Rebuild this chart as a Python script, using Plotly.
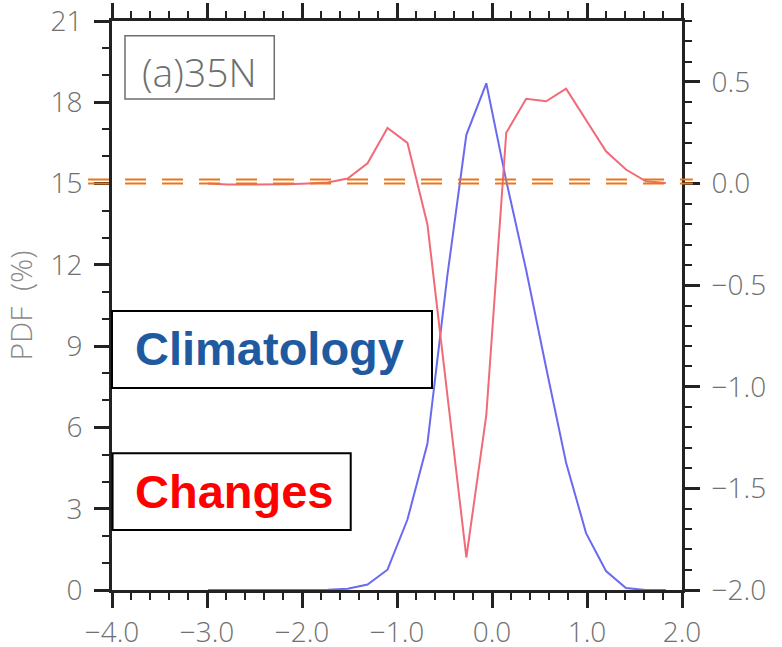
import plotly.graph_objects as go

# Bin centres (normalised anomaly) shared by both curves
bins = [-2.99, -2.78, -2.57, -2.36, -2.15, -1.94, -1.73, -1.52, -1.31, -1.10,
        -0.89, -0.68, -0.47, -0.27, -0.06, 0.15, 0.36, 0.57, 0.78, 0.99,
        1.20, 1.41, 1.62, 1.83]

# Climatological PDF (%) - left axis
climatology = [0, 0, 0, 0, 0, 0, 0.01, 0.05, 0.2, 0.75,
               2.6, 5.4, 11.6, 16.8, 18.7, 15.1, 11.8, 8.2, 4.7, 2.1,
               0.7, 0.07, 0, 0]

# Change in PDF (%) - right axis
changes = [0.0, -0.005, -0.005, -0.005, -0.003, 0.0, 0.005, 0.025, 0.10, 0.274,
           0.20, -0.20, -1.04, -1.84, -1.14, 0.25, 0.417, 0.405, 0.467, 0.315,
           0.159, 0.069, 0.011, 0.003]

# Reference levels for the dashed lines
clim_ref = 15.15
change_ref = 0.0

x_range = [-4, 2]
y_range = [0, 21]
y2_range = [-2, 0.8]

AX = "#222222"
TICK_FONT = dict(family="Open Sans", size=28, color="#707070", weight=300)

fig = go.Figure()
fig.add_trace(go.Scatter(x=bins, y=climatology, mode="lines",
                         line=dict(color="#6a6af0", width=2), yaxis="y",
                         showlegend=False))
fig.add_trace(go.Scatter(x=bins, y=changes, mode="lines",
                         line=dict(color="#f26a78", width=2), yaxis="y2",
                         showlegend=False))

common = dict(showgrid=False, zeroline=False, showline=True, linewidth=3,
              linecolor=AX, ticks="outside", ticklen=15, tickwidth=3,
              tickcolor=AX, tickfont=TICK_FONT, automargin=False)

fig.update_layout(
    width=782, height=647,
    margin=dict(l=112, r=100, t=21, b=57, autoexpand=False),
    paper_bgcolor="white", plot_bgcolor="white",
    xaxis=dict(range=x_range, tickmode="linear", tick0=-4, dtick=1,
               tickformat=".1f", mirror="ticks", ticklabelstandoff=0,
               minor=dict(dtick=0.2, ticks="outside", ticklen=7, tickwidth=2,
                          tickcolor=AX),
               **common),
    yaxis=dict(range=y_range, tickmode="linear", tick0=0, dtick=3,
               ticklabelstandoff=6,
               minor=dict(dtick=1, ticks="outside", ticklen=7, tickwidth=2,
                          tickcolor=AX),
               **common),
    yaxis2=dict(range=y2_range, overlaying="y", side="right", anchor="x",
                tickmode="linear", tick0=-2, dtick=0.5, tickformat=".1f",
                ticklabelstandoff=6,
                minor=dict(dtick=0.1, ticks="outside", ticklen=7, tickwidth=2,
                           tickcolor=AX),
                **common),
)

# Dashed reference lines (extend slightly past the frame)
ORANGE = "#e8761e"
fig.add_shape(type="line", xref="paper", yref="y", x0=-0.042, x1=1.019,
              y0=clim_ref, y1=clim_ref, layer="above",
              line=dict(color=ORANGE, width=2, dash="21px,16px"))
fig.add_shape(type="line", xref="paper", yref="y2", x0=-0.042, x1=1.019,
              y0=change_ref, y1=change_ref, layer="above",
              line=dict(color=ORANGE, width=2, dash="21px,16px"))

# Panel label box
fig.add_shape(type="rect", xref="paper", yref="paper", x0=0.0228, x1=0.2847,
              y0=0.8629, y1=0.9742, line=dict(color="#6e6e6e", width=1.5),
              fillcolor="rgba(0,0,0,0)", layer="above")
fig.add_annotation(xref="paper", yref="paper", x=0.1535, y=0.9121,
                   text="(a)35N", showarrow=False, xanchor="center",
                   yanchor="middle",
                   font=dict(family="Open Sans", size=39, color="#6e6e6e",
                             weight=300))

# Legend-style labels
fig.add_shape(type="rect", xref="paper", yref="paper", x0=0.0, x1=0.5614,
              y0=0.3550, y1=0.4903, line=dict(color="black", width=2),
              fillcolor="white", layer="above")
fig.add_annotation(xref="paper", yref="paper", x=0.0368, y=0.4236,
                   text="<b>Climatology</b>", showarrow=False, xanchor="left",
                   yanchor="middle",
                   font=dict(family="Liberation Sans", size=47, color="#1f5aa0"))
fig.add_shape(type="rect", xref="paper", yref="paper", x0=0.001, x1=0.4188,
              y0=0.1054, y1=0.2402, line=dict(color="black", width=2),
              fillcolor="white", layer="above")
fig.add_annotation(xref="paper", yref="paper", x=0.0363, y=0.1728,
                   text="<b>Changes</b>", showarrow=False, xanchor="left",
                   yanchor="middle",
                   font=dict(family="Liberation Sans", size=47, color="#ff0000"))

# Left axis title
fig.add_annotation(xref="paper", yref="paper", x=-0.1614, y=0.5,
                   text="PDF  (%)", showarrow=False, textangle=-90,
                   xanchor="center", yanchor="middle",
                   font=dict(family="Open Sans", size=30, color="#8a8a8a",
                             weight=300))

fig.write_html("out.html")
